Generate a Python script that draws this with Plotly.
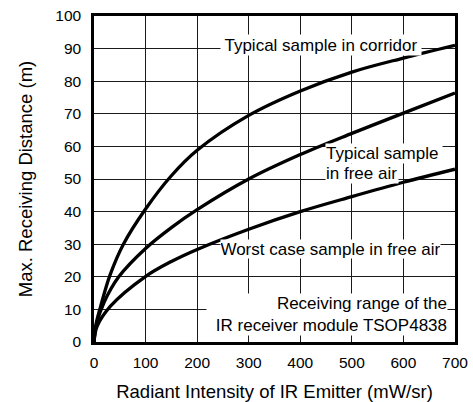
import plotly.graph_objects as go

# Data
corridor_x = [0, 4, 13, 31, 57, 100, 150, 200, 300, 400, 500, 600, 700]
corridor_y = [0, 5.5, 11, 20.5, 30, 40.8, 51, 58.8, 69.5, 77, 82.8, 87.1, 91]

freeair_x = [0, 4, 20, 48, 100, 150, 200, 300, 400, 500, 600, 700]
freeair_y = [0, 5, 12.3, 20, 28.7, 35.1, 40.6, 50, 57.5, 64, 70.2, 76.4]

worst_x = [0, 6, 32, 99, 150, 200, 300, 400, 500, 600, 700]
worst_y = [0, 4.8, 11, 20, 24.7, 28.4, 34.6, 40, 44.6, 49, 53]

x_ticks = [0, 100, 200, 300, 400, 500, 600, 700]
y_ticks = [0, 10, 20, 30, 40, 50, 60, 70, 80, 90, 100]

FONT = "Liberation Sans, Arial, Helvetica, sans-serif"

fig = go.Figure()
for xs, ys in [(corridor_x, corridor_y), (freeair_x, freeair_y), (worst_x, worst_y)]:
    fig.add_trace(go.Scatter(x=xs, y=ys, mode="lines",
                             line=dict(color="black", width=3.3, shape="spline", smoothing=1.0),
                             showlegend=False, hoverinfo="skip"))

ann_font = dict(family=FONT, size=17, color="black")
annotations = [
    dict(text="Typical sample in corridor", x=440.5, y=91.1, width=200, height=20, align="center"),
    dict(text="Typical sample", x=561.6, y=57.8, width=116, height=19, align="left"),
    dict(text="in free air", x=519, y=51.8, width=72, height=19, align="left"),
    dict(text="Worst case sample in free air", x=458, y=28.66, width=219, height=18, align="center"),
    dict(text="Receiving range of the<br>IR receiver module TSOP4838", x=451.2, y=8.3,
         width=240, height=41, align="right"),
]
for a in annotations:
    fig.add_annotation(xref="x", yref="y", showarrow=False, xanchor="center", yanchor="middle",
                       bgcolor="white", borderpad=0, font=ann_font, **a)

axis_common = dict(
    showgrid=True, gridcolor="#1a1a1a", gridwidth=1,
    showline=True, linecolor="black", linewidth=2.5, mirror=True,
    zeroline=False, ticks="outside", tickcolor="rgba(0,0,0,0)",
    tickfont=dict(family=FONT, size=15.5, color="black"),
    ticklabeloverflow="allow",
    automargin=False,
)

fig.update_xaxes(range=[0, 700], tickvals=x_ticks, ticklen=5,
                 title=dict(text="Radiant Intensity of IR Emitter (mW/sr)",
                            font=dict(family=FONT, size=18.5, color="black"), standoff=20),
                 **axis_common)
fig.update_yaxes(range=[0, 100], tickvals=y_ticks, ticklen=7,
                 title=dict(text="Max. Receiving Distance (m)",
                            font=dict(family=FONT, size=18.5, color="black"), standoff=18.5),
                 **axis_common)

fig.update_layout(
    width=473, height=402,
    margin=dict(l=94, r=17.5, t=16, b=59.5),
    paper_bgcolor="white", plot_bgcolor="white",
    font=dict(family=FONT, color="black"),
)

# Remove the default 8px page margin so the figure fills the window exactly.
fig.write_html("out.html", config={"displayModeBar": False},
               post_script="document.body.style.margin='0';document.body.style.overflow='hidden';")
